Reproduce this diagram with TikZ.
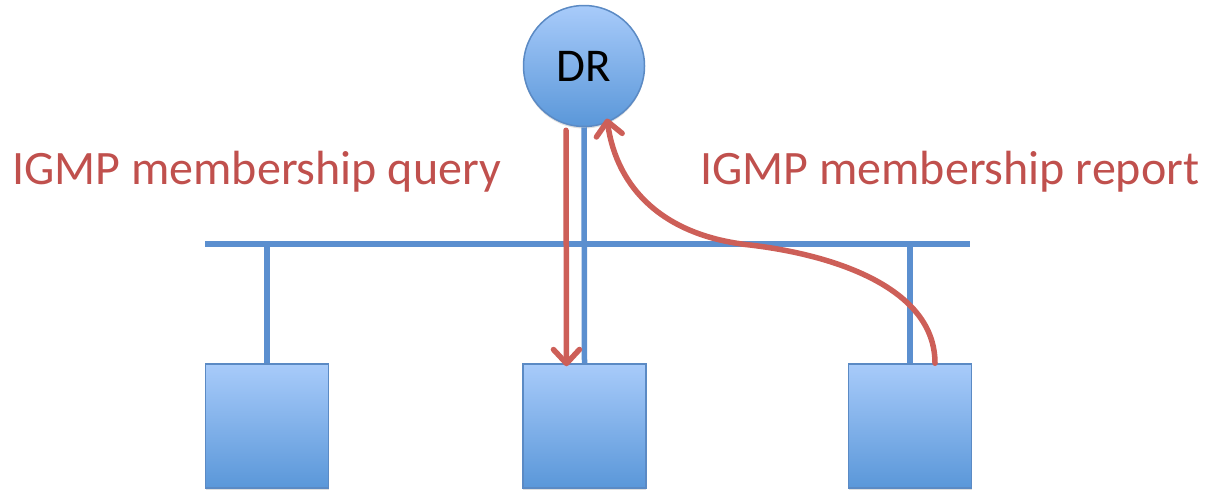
\documentclass[tikz,border=0pt]{standalone}
\usepackage{fontspec}
\setmainfont{Carlito}
\usetikzlibrary{arrows.meta,shadows}
\definecolor{netblue}{HTML}{5B8FCF}
\definecolor{boxtop}{HTML}{A8CBFA}
\definecolor{boxbot}{HTML}{5A97D9}
\definecolor{boxedge}{HTML}{5B8AC4}
\definecolor{msgred}{HTML}{CD5F58}
\definecolor{labelred}{HTML}{C0504D}
\tikzset{
  host/.style={draw=boxedge, line width=1.5pt, top color=boxtop, bottom color=boxbot,
    minimum width=123pt, minimum height=124pt, inner sep=0pt,
    drop shadow={opacity=0.25, shadow xshift=0pt, shadow yshift=-2pt}},
  router/.style={circle, draw=boxedge, line width=1.5pt, top color=boxtop, bottom color=boxbot,
    minimum size=121pt, inner sep=0pt, font=\fontsize{47}{54}\selectfont,
    drop shadow={opacity=0.25, shadow xshift=0pt, shadow yshift=-2pt}},
  wire/.style={draw=netblue, line width=5.5pt},
  msg/.style={draw=msgred, line width=5.5pt, line cap=round,
    -{Straight Barb[length=14pt, width=26pt, line cap=round, line join=round]}},
  msglabel/.style={anchor=base west, inner sep=0pt, text=labelred,
    font=\fontsize{48}{56}\selectfont}
}
\begin{document}
\begin{tikzpicture}[x=1pt, y=-1pt]
  \useasboundingbox (0,0) rectangle (1207,491);

  % router and hosts
  \node[router] (dr) at (584,66) {DR};
  \node[host] (h1) at (267,426) {};
  \node[host] (h2) at (584.5,426) {};
  \node[host] (h3) at (910,426) {};

  % shared segment
  \coordinate (busL) at (205,244);
  \coordinate (busR) at (970,244);
  \path[wire] (busL) -- (busR);
  \path[wire] (h1.north) -- (h1.north |- busL);
  \path[wire] (h3.north) -- (h3.north |- busL);
  \path[wire] (dr.south) -- (h2.north);

  % query from the router down to the host
  \draw[msg] ([xshift=-18pt]dr.south) ++(0,3) -- ([xshift=-18pt,yshift=-3pt]h2.north);

  % report from the host back to the router
  \draw[msg] ([xshift=25pt]h3.north) .. controls +(0,-75) and (835,255) .. (750,245)
    .. controls (665,236) and (617,190) .. ([shift={(2pt,5pt)}]dr.-70);

  % labels
  \node[msglabel] (ql) at (12,184) {IGMP membership query};
  \node[msglabel] (rl) at (700,184) {IGMP membership report};
\end{tikzpicture}
\end{document}
